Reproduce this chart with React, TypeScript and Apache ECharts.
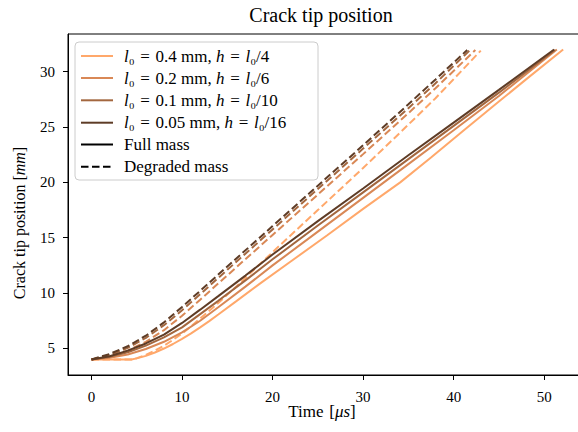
import React, { useEffect, useRef } from "react";
import * as echarts from "echarts";

// ---- data ----
const xTicks = [0, 10, 20, 30, 40, 50];
const yTicks = [5, 10, 15, 20, 25, 30];

const legendLabels = ["0.4", "0.2", "0.1", "0.05"];
const legendDivisors = ["4", "6", "10", "16"];
const seriesColors = ["#FFA86B", "#D98856", "#A3673F", "#5E3C26"];

// Full mass (solid)
const tFull04 = [0, 4.4, 5, 6, 7, 8, 9, 10, 11, 12, 13, 14, 16, 18.6, 22, 26, 30, 34.1, 37.5, 40.9, 45, 48, 52.1];
const yFull04 = [4, 4, 4.1, 4.33, 4.63, 4.99, 5.4, 5.86, 6.36, 6.9, 7.47, 8.06, 9.27, 10.85, 12.85, 15.2, 17.6, 20.0, 22.25, 24.55, 27.3, 29.3, 32.0];
const tFull02 = [0, 2, 4, 6, 8, 10, 12, 14, 17, 20, 25, 30, 35, 40, 45, 51.4];
const yFull02 = [4, 4.15, 4.45, 4.95, 5.6, 6.45, 7.5, 8.72, 10.58, 12.5, 15.55, 18.6, 21.65, 24.7, 27.8, 32.0];
const tFull01 = [0, 2, 4, 6, 8, 10, 12, 14, 17, 20, 25, 30, 35, 40, 45, 51.2];
const yFull01 = [4, 4.25, 4.65, 5.25, 6.0, 6.9, 8.1, 9.3, 11.15, 13.05, 16.1, 19.1, 22.1, 25.1, 28.1, 31.95];
const tFull005 = [0, 2, 4, 6, 8, 10, 12, 14, 17, 20, 25, 30, 35, 40, 45, 51.1];
const yFull005 = [4, 4.3, 4.8, 5.45, 6.25, 7.3, 8.5, 9.72, 11.58, 13.48, 16.5, 19.45, 22.45, 25.4, 28.35, 32.0];

// Degraded mass (dashed)
const tDeg04 = [0, 4.4, 5, 6, 7, 8, 9, 10, 11, 12, 14, 16, 18, 20.4, 25, 30, 34.1, 38, 43.0];
const yDeg04 = [4, 4, 4.12, 4.42, 4.8, 5.25, 5.77, 6.35, 7.0, 7.7, 9.1, 10.6, 12.15, 14.0, 17.5, 21.3, 24.5, 27.6, 31.9];
const tDeg02 = [0, 2, 4, 6, 8, 10, 12, 15, 20, 25, 30, 35, 38, 42.4];
const yDeg02 = [4, 4.3, 4.8, 5.6, 6.65, 7.95, 9.4, 11.6, 15.25, 18.9, 22.55, 26.25, 28.5, 31.95];
const tDeg01 = [0, 2, 4, 6, 8, 10, 12, 15, 20, 25, 30, 35, 38, 41.8];
const yDeg01 = [4, 4.4, 5.05, 5.95, 7.1, 8.45, 9.9, 12.1, 15.75, 19.4, 23.05, 26.7, 28.95, 31.95];
const tDeg005 = [0, 2, 4, 6, 8, 10, 12, 15, 20, 25, 30, 35, 38, 41.5];
const yDeg005 = [4, 4.5, 5.2, 6.15, 7.35, 8.75, 10.2, 12.4, 16.05, 19.7, 23.35, 27.05, 29.3, 31.95];

const fullT = [tFull04, tFull02, tFull01, tFull005];
const fullY = [yFull04, yFull02, yFull01, yFull005];
const degT = [tDeg04, tDeg02, tDeg01, tDeg005];
const degY = [yDeg04, yDeg02, yDeg01, yDeg005];

const FONT = "'Liberation Serif', 'Times New Roman', serif";
const DASH = [7.5, 3.5];
const SP = "\u2004"; // math-like spacing around "="

function zip(xs: number[], ys: number[]) {
  return xs.map((x, i) => [x, ys[i]]);
}

export default function App() {
  const ref = useRef<HTMLDivElement>(null);

  useEffect(() => {
    if (!ref.current) return;
    const chart = echarts.init(ref.current, null, { renderer: "svg" });

    const series: any[] = [];
    for (let i = 0; i < 4; i++) {
      series.push({
        type: "line",
        name: `full ${legendLabels[i]}`,
        data: zip(fullT[i], fullY[i]),
        showSymbol: false,
        symbol: "none",
        z: 2 + i,
        lineStyle: { color: seriesColors[i], width: 2, type: "solid" },
      });
      series.push({
        type: "line",
        name: `degraded ${legendLabels[i]}`,
        data: zip(degT[i], degY[i]),
        showSymbol: false,
        symbol: "none",
        z: 2 + i,
        lineStyle: { color: seriesColors[i], width: 2, type: DASH, cap: "butt" },
      });
    }

    const LF = 17;
    const legX = 75, legY = 42, legW = 243, legH = 138;
    const rowY = [56, 78, 100.3, 122.7, 144.5, 166.7];
    const lineX0 = 81, lineX1 = 113, textX = 124;
    const richL = { i: { fontStyle: "italic", fontFamily: FONT, fontSize: LF, fill: "#000" } };
    const richA = { i: { fontStyle: "italic", fontFamily: FONT, fontSize: 16, fill: "#000" } };

    const legendEls: any[] = [
      {
        type: "rect",
        shape: { x: legX, y: legY, width: legW, height: legH, r: 4 },
        style: { fill: "rgba(255,255,255,0.8)", stroke: "#cccccc", lineWidth: 1 },
        z: 50,
      },
    ];
    const legendTexts = legendLabels.map(
      (l, i) =>
        `{i|l}₀${SP}=${SP}${l} mm, {i|h}${SP}=${SP}{i|l}₀/${legendDivisors[i]}`
    );
    for (let i = 0; i < 4; i++) {
      legendEls.push({
        type: "line",
        shape: { x1: lineX0, y1: rowY[i], x2: lineX1, y2: rowY[i] },
        style: { stroke: seriesColors[i], lineWidth: 2 },
        z: 51,
      });
      legendEls.push({
        type: "text",
        x: textX,
        y: rowY[i],
        style: {
          text: legendTexts[i],
          rich: richL,
          fontFamily: FONT,
          fontSize: LF,
          fill: "#000",
          verticalAlign: "middle",
          align: "left",
        },
        z: 51,
      });
    }
    legendEls.push({
      type: "line",
      shape: { x1: lineX0, y1: rowY[4], x2: lineX1, y2: rowY[4] },
      style: { stroke: "#000", lineWidth: 2 },
      z: 51,
    });
    legendEls.push({
      type: "text",
      x: textX,
      y: rowY[4],
      style: { text: "Full mass", fontFamily: FONT, fontSize: LF, fill: "#000", verticalAlign: "middle" },
      z: 51,
    });
    legendEls.push({
      type: "line",
      shape: { x1: lineX0, y1: rowY[5], x2: lineX1, y2: rowY[5] },
      style: { stroke: "#000", lineWidth: 2, lineDash: DASH },
      z: 51,
    });
    legendEls.push({
      type: "text",
      x: textX,
      y: rowY[5],
      style: { text: "Degraded mass", fontFamily: FONT, fontSize: LF, fill: "#000", verticalAlign: "middle" },
      z: 51,
    });

    chart.setOption({
      animation: false,
      backgroundColor: "#fff",
      grid: {
        left: 68,
        top: 34,
        right: 5.3,
        bottom: 57,
        show: true,
        borderColor: "#000",
        borderWidth: 1,
        backgroundColor: "transparent",
      },
      xAxis: {
        type: "value",
        min: -2.6,
        max: 54.7,
        axisLine: { show: true, onZero: false, lineStyle: { color: "#000", width: 1 } },
        axisTick: { show: true, customValues: xTicks, length: 5, lineStyle: { color: "#000", width: 1 } },
        axisLabel: {
          customValues: xTicks,
          color: "#000",
          fontFamily: FONT,
          fontSize: 15,
          margin: 14,
        },
        splitLine: { show: false },
      },
      yAxis: {
        type: "value",
        min: 2.6,
        max: 33.4,
        axisLine: { show: true, onZero: false, lineStyle: { color: "#000", width: 1 } },
        axisTick: { show: true, customValues: yTicks, length: 5, lineStyle: { color: "#000", width: 1 } },
        axisLabel: {
          customValues: yTicks,
          color: "#000",
          fontFamily: FONT,
          fontSize: 15,
          margin: 13,
        },
        splitLine: { show: false },
      },
      graphic: [
        {
          type: "text",
          x: 321,
          y: 15,
          style: {
            text: "Crack tip position",
            fontFamily: FONT,
            fontSize: 20,
            fill: "#000",
            align: "center",
            verticalAlign: "middle",
          },
        },
        {
          type: "text",
          x: 322,
          y: 411,
          style: {
            text: `Time${SP}[{i|μs}]`,
            rich: { i: { fontStyle: "italic", fontFamily: FONT, fontSize: 17, fill: "#000" } },
            fontFamily: FONT,
            fontSize: 17,
            fill: "#000",
            align: "center",
            verticalAlign: "middle",
          },
        },
        {
          type: "text",
          x: 19,
          y: 223,
          rotation: Math.PI / 2,
          style: {
            text: "Crack tip position [{i|mm}]",
            rich: richA,
            fontFamily: FONT,
            fontSize: 16,
            fill: "#000",
            align: "center",
            verticalAlign: "middle",
          },
        },
        ...legendEls,
      ],
      series,
    });

    return () => chart.dispose();
  }, []);

  return (
    <div style={{ position: "absolute", left: 0, top: 0, width: 578, height: 432, overflow: "hidden", background: "#fff" }}>
      <div ref={ref} style={{ width: 592, height: 432 }} />
    </div>
  );
}
